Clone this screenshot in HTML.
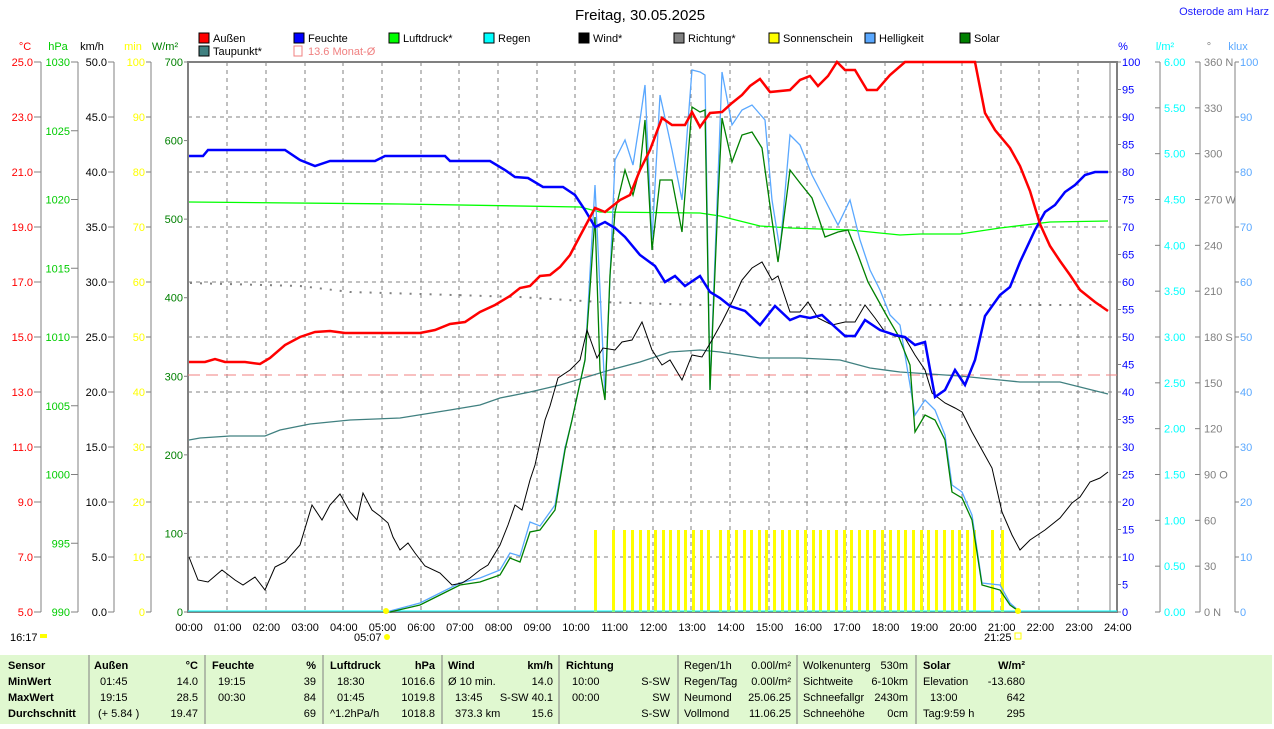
<!DOCTYPE html>
<html><head><meta charset="utf-8"><style>
body{margin:0;background:#fff;width:1274px;height:724px;overflow:hidden;font-family:"Liberation Sans",sans-serif}
svg text{font-family:"Liberation Sans",sans-serif;font-size:11px}
</style></head><body>
<svg width="1274" height="724" viewBox="0 0 1274 724">
<text x="640" y="20" font-size="15" text-anchor="middle" style="font-size:15px">Freitag, 30.05.2025</text>
<text x="1269" y="15" text-anchor="end" fill="#2020ff">Osterode am Harz</text>
<!-- legend -->
<g font-size="11">
<rect x="199" y="33" width="10" height="10" fill="#f00" stroke="#000"/><text x="213" y="42">Außen</text>
<rect x="294" y="33" width="10" height="10" fill="#00f" stroke="#000"/><text x="308" y="42">Feuchte</text>
<rect x="389" y="33" width="10" height="10" fill="#0f0" stroke="#000"/><text x="403" y="42">Luftdruck*</text>
<rect x="484" y="33" width="10" height="10" fill="#0ff" stroke="#000"/><text x="498" y="42">Regen</text>
<rect x="579" y="33" width="10" height="10" fill="#000" stroke="#000"/><text x="593" y="42">Wind*</text>
<rect x="674" y="33" width="10" height="10" fill="#808080" stroke="#000"/><text x="688" y="42">Richtung*</text>
<rect x="769" y="33" width="10" height="10" fill="#ff0" stroke="#000"/><text x="783" y="42">Sonnenschein</text>
<rect x="865" y="33" width="10" height="10" fill="#5aa8ff" stroke="#000"/><text x="879" y="42">Helligkeit</text>
<rect x="960" y="33" width="10" height="10" fill="#008000" stroke="#000"/><text x="974" y="42">Solar</text>
<rect x="199" y="46" width="10" height="10" fill="#408080" stroke="#000"/><text x="213" y="55">Taupunkt*</text>
<rect x="294" y="46" width="8" height="10" fill="none" stroke="#f08080"/><text x="308" y="55" fill="#f08080">13.6 Monat-Ø</text>
</g>
<!-- units -->
<text x="25" y="50" fill="#f00" text-anchor="middle">°C</text>
<text x="58" y="50" fill="#0c0" text-anchor="middle">hPa</text>
<text x="92" y="50" text-anchor="middle">km/h</text>
<text x="133" y="50" fill="#ff0" text-anchor="middle">min</text>
<text x="165" y="50" fill="#008000" text-anchor="middle">W/m²</text>
<text x="1123" y="50" fill="#00f" text-anchor="middle">%</text>
<text x="1165" y="50" fill="#0ff" text-anchor="middle">l/m²</text>
<text x="1209" y="50" fill="#808080" text-anchor="middle">°</text>
<text x="1238" y="50" fill="#5aa8ff" text-anchor="middle">klux</text>
<!-- grid -->
<g stroke="#808080" stroke-dasharray="4,4" stroke-width="1">
<line x1="227" y1="62" x2="227" y2="612"/><line x1="266" y1="62" x2="266" y2="612"/><line x1="305" y1="62" x2="305" y2="612"/><line x1="343" y1="62" x2="343" y2="612"/><line x1="382" y1="62" x2="382" y2="612"/><line x1="421" y1="62" x2="421" y2="612"/><line x1="459" y1="62" x2="459" y2="612"/><line x1="498" y1="62" x2="498" y2="612"/><line x1="537" y1="62" x2="537" y2="612"/><line x1="575" y1="62" x2="575" y2="612"/><line x1="614" y1="62" x2="614" y2="612"/><line x1="653" y1="62" x2="653" y2="612"/><line x1="691" y1="62" x2="691" y2="612"/><line x1="730" y1="62" x2="730" y2="612"/><line x1="769" y1="62" x2="769" y2="612"/><line x1="807" y1="62" x2="807" y2="612"/><line x1="846" y1="62" x2="846" y2="612"/><line x1="885" y1="62" x2="885" y2="612"/><line x1="923" y1="62" x2="923" y2="612"/><line x1="962" y1="62" x2="962" y2="612"/><line x1="1001" y1="62" x2="1001" y2="612"/><line x1="1039" y1="62" x2="1039" y2="612"/><line x1="1078" y1="62" x2="1078" y2="612"/>
<line x1="188" y1="117" x2="1117" y2="117"/><line x1="188" y1="172" x2="1117" y2="172"/><line x1="188" y1="227" x2="1117" y2="227"/><line x1="188" y1="282" x2="1117" y2="282"/><line x1="188" y1="337" x2="1117" y2="337"/><line x1="188" y1="392" x2="1117" y2="392"/><line x1="188" y1="447" x2="1117" y2="447"/><line x1="188" y1="502" x2="1117" y2="502"/><line x1="188" y1="557" x2="1117" y2="557"/>
</g>
<rect x="188" y="62" width="929" height="550" fill="none" stroke="#808080" stroke-width="2"/>
<line x1="1110" y1="62" x2="1110" y2="612" stroke="#808080"/>
<!-- axes lines -->
<g stroke="#808080"><line x1="41" y1="62" x2="41" y2="612"/><line x1="78" y1="62" x2="78" y2="612"/><line x1="114" y1="62" x2="114" y2="612"/><line x1="151" y1="62" x2="151" y2="612"/><line x1="1160" y1="62" x2="1160" y2="612"/><line x1="1200" y1="62" x2="1200" y2="612"/><line x1="1235" y1="62" x2="1235" y2="612"/></g>
<g font-size="11" id="ax"></g>
<!-- monthly avg -->
<line x1="188" y1="375" x2="1117" y2="375" stroke="#f08080" stroke-dasharray="12,6"/>
<!-- Richtung dots -->
<polyline fill="none" stroke="#808080" stroke-width="2" stroke-dasharray="2,8" points="190,283 300,286 350,292 420,294 520,297 600,302 700,305 1108,305"/>
<!-- sunshine bars -->
<g id="bars" fill="#ff0"></g>
<!-- series -->
<polyline fill="none" stroke="#0ff" stroke-width="1" points="188,611 1117,611"/>
<polyline fill="none" stroke="#408080" stroke-width="1.3" points="189,440 200,438 230,436 265,436 280,430 310,424 350,420 400,418 450,410 480,405 500,398 530,392 560,385 590,376 610,370 640,362 670,352 700,350 720,352 760,358 800,358 840,360 870,368 900,372 960,376 1000,380 1020,382 1060,382 1108,394"/>
<polyline fill="none" stroke="#0f0" stroke-width="1.3" points="189,202 400,204 580,207 600,212 700,213 720,216 760,226 790,228 850,230 900,235 920,234 960,234 1000,228 1050,222 1108,221"/>
<polyline fill="none" stroke="#5aa8ff" stroke-width="1.3" points="390,611 420,603 440,593 460,583 480,578 500,570 510,553 520,556 530,522 540,526 555,505 565,448 572,420 585,360 595,185 605,395 615,160 625,140 633,165 640,120 645,85 652,240 660,95 672,150 682,200 692,70 700,72 705,75 710,390 722,72 732,125 742,110 752,105 765,120 772,200 780,250 790,135 800,145 812,175 825,200 838,225 850,200 860,240 870,270 880,290 890,315 900,325 915,415 925,400 935,410 945,435 952,485 962,492 972,515 982,583 1000,585 1010,603 1020,612"/>
<polyline fill="none" stroke="#008000" stroke-width="1.3" points="390,612 420,605 440,595 460,585 480,582 500,575 510,558 520,562 530,532 540,530 555,510 565,450 572,420 585,360 595,217 600,370 605,400 610,275 615,212 625,170 633,195 640,168 645,120 652,250 660,180 672,180 682,232 692,107 700,112 705,110 710,390 718,200 722,118 732,162 742,135 752,132 762,148 772,220 778,262 783,225 790,170 800,183 812,198 825,237 838,232 848,230 858,255 868,282 878,300 888,318 898,335 910,365 915,432 925,415 935,420 945,440 952,492 962,498 972,520 982,585 1000,590 1010,605 1020,612"/>
<polyline fill="none" stroke="#000" stroke-width="1" points="189,557 198,580 208,582 222,570 235,580 243,585 255,577 265,590 275,567 285,562 300,545 312,505 322,520 330,505 340,494 350,512 357,520 363,493 372,510 380,516 388,523 393,537 400,550 408,543 415,553 425,566 440,573 452,585 462,583 470,578 480,570 488,565 500,545 508,525 515,505 522,510 530,480 535,465 545,420 550,406 558,378 570,370 580,360 587,330 597,358 603,348 615,350 622,342 632,340 642,322 652,350 662,365 670,360 682,380 692,355 702,357 712,340 722,322 732,302 742,280 752,268 762,262 772,280 778,276 790,312 800,312 808,302 818,318 832,325 845,322 855,322 865,305 875,318 885,332 895,336 905,338 915,355 925,370 932,393 945,403 955,408 962,412 972,432 982,450 992,468 1002,512 1012,535 1020,550 1030,540 1045,530 1060,518 1072,503 1080,497 1090,482 1100,478 1108,472"/>
<polyline fill="none" stroke="#00f" stroke-width="2.5" points="189,156 203,156 208,150 285,150 300,160 315,166 330,161 375,161 385,156 445,156 450,161 490,161 505,170 515,177 528,178 543,187 563,187 575,195 585,210 595,227 605,222 615,228 625,237 640,255 655,266 665,282 675,276 685,286 700,276 710,292 720,298 730,306 745,311 760,325 775,306 790,320 800,316 810,318 822,315 835,327 845,336 855,336 865,320 880,330 895,335 905,337 915,345 925,342 935,397 945,390 955,370 965,385 975,360 985,316 1000,295 1010,287 1020,262 1035,230 1045,212 1055,205 1065,192 1075,185 1085,175 1095,172 1108,172"/>
<polyline fill="none" stroke="#f00" stroke-width="2.5" points="189,362 205,362 215,359 225,362 245,362 260,364 270,358 285,345 300,337 315,332 330,331 345,333 420,333 435,330 450,324 465,322 480,312 495,305 510,296 520,288 530,286 540,276 550,275 560,267 570,255 580,236 595,208 605,212 620,200 630,195 640,170 650,150 662,118 672,125 685,125 692,112 700,127 710,113 722,112 732,103 742,95 750,86 760,79 770,92 790,90 800,80 810,76 818,86 828,76 837,62 845,70 855,70 867,90 877,90 890,75 905,62 975,62 985,113 995,130 1010,148 1020,166 1030,191 1040,224 1050,246 1060,261 1070,275 1080,290 1095,302 1108,311"/>
<!-- x labels -->
<g id="xl" font-size="11"></g>
<text x="10" y="641">16:17</text><rect x="40" y="634" width="7" height="4" fill="#ff0"/>
<text x="354" y="641">05:07</text><circle cx="387" cy="637" r="3" fill="#ff0"/><circle cx="386" cy="611" r="3" fill="#ff0"/>
<text x="984" y="641">21:25</text><rect x="1015" y="633" width="6" height="6" fill="none" stroke="#ff0"/><circle cx="1018" cy="611" r="3" fill="#ff0"/>
<!-- table -->
<rect x="0" y="655" width="1272" height="69" fill="#e0f8d0"/>
<g stroke="#808080"><line x1="89" y1="655" x2="89" y2="724"/><line x1="205" y1="655" x2="205" y2="724"/><line x1="323" y1="655" x2="323" y2="724"/><line x1="442" y1="655" x2="442" y2="724"/><line x1="559" y1="655" x2="559" y2="724"/><line x1="678" y1="655" x2="678" y2="724"/><line x1="797" y1="655" x2="797" y2="724"/><line x1="916" y1="655" x2="916" y2="724"/></g>
<g font-size="11">
<text x="8" y="669" font-weight="bold">Sensor</text><text x="8" y="685" font-weight="bold">MinWert</text><text x="8" y="701" font-weight="bold">MaxWert</text><text x="8" y="717" font-weight="bold">Durchschnitt</text>
<text x="94" y="669" font-weight="bold">Außen</text><text x="198" y="669" font-weight="bold" text-anchor="end">°C</text>
<text x="100" y="685">01:45</text><text x="198" y="685" text-anchor="end">14.0</text>
<text x="100" y="701">19:15</text><text x="198" y="701" text-anchor="end">28.5</text>
<text x="98" y="717">(+ 5.84 )</text><text x="198" y="717" text-anchor="end">19.47</text>
<text x="212" y="669" font-weight="bold">Feuchte</text><text x="316" y="669" font-weight="bold" text-anchor="end">%</text>
<text x="218" y="685">19:15</text><text x="316" y="685" text-anchor="end">39</text>
<text x="218" y="701">00:30</text><text x="316" y="701" text-anchor="end">84</text>
<text x="316" y="717" text-anchor="end">69</text>
<text x="330" y="669" font-weight="bold">Luftdruck</text><text x="435" y="669" font-weight="bold" text-anchor="end">hPa</text>
<text x="337" y="685">18:30</text><text x="435" y="685" text-anchor="end">1016.6</text>
<text x="337" y="701">01:45</text><text x="435" y="701" text-anchor="end">1019.8</text>
<text x="330" y="717">^1.2hPa/h</text><text x="435" y="717" text-anchor="end">1018.8</text>
<text x="448" y="669" font-weight="bold">Wind</text><text x="553" y="669" font-weight="bold" text-anchor="end">km/h</text>
<text x="448" y="685">Ø 10 min.</text><text x="553" y="685" text-anchor="end">14.0</text>
<text x="455" y="701">13:45</text><text x="553" y="701" text-anchor="end">S-SW 40.1</text>
<text x="455" y="717">373.3 km</text><text x="553" y="717" text-anchor="end">15.6</text>
<text x="566" y="669" font-weight="bold">Richtung</text>
<text x="572" y="685">10:00</text><text x="670" y="685" text-anchor="end">S-SW</text>
<text x="572" y="701">00:00</text><text x="670" y="701" text-anchor="end">SW</text>
<text x="670" y="717" text-anchor="end">S-SW</text>
<text x="684" y="669">Regen/1h</text><text x="791" y="669" text-anchor="end">0.00l/m²</text>
<text x="684" y="685">Regen/Tag</text><text x="791" y="685" text-anchor="end">0.00l/m²</text>
<text x="684" y="701">Neumond</text><text x="791" y="701" text-anchor="end">25.06.25</text>
<text x="684" y="717">Vollmond</text><text x="791" y="717" text-anchor="end">11.06.25</text>
<text x="803" y="669">Wolkenunterg</text><text x="908" y="669" text-anchor="end">530m</text>
<text x="803" y="685">Sichtweite</text><text x="908" y="685" text-anchor="end">6-10km</text>
<text x="803" y="701">Schneefallgr</text><text x="908" y="701" text-anchor="end">2430m</text>
<text x="803" y="717">Schneehöhe</text><text x="908" y="717" text-anchor="end">0cm</text>
<text x="923" y="669" font-weight="bold">Solar</text><text x="1025" y="669" font-weight="bold" text-anchor="end">W/m²</text>
<text x="923" y="685">Elevation</text><text x="1025" y="685" text-anchor="end">-13.680</text>
<text x="930" y="701">13:00</text><text x="1025" y="701" text-anchor="end">642</text>
<text x="923" y="717">Tag:9:59 h</text><text x="1025" y="717" text-anchor="end">295</text>
</g>
</svg>
<script>
var ns="http://www.w3.org/2000/svg",ax=document.getElementById("ax");
function t(x,y,s,c,a){var e=document.createElementNS(ns,"text");e.setAttribute("x",x);e.setAttribute("y",y+4);e.setAttribute("fill",c);e.setAttribute("text-anchor",a);e.textContent=s;ax.appendChild(e);}
function tk(x1,x2,y){var l=document.createElementNS(ns,"line");l.setAttribute("x1",x1);l.setAttribute("x2",x2);l.setAttribute("y1",y);l.setAttribute("y2",y);l.setAttribute("stroke","#808080");ax.appendChild(l);}
for(var i=0;i<=10;i++){var y=62+55*i;t(33,y,(25-2*i).toFixed(1),"#f00","end");tk(34,41,y);t(107,y,(50-5*i).toFixed(1),"#000","end");tk(108,114,y);t(145,y,String(100-10*i),"#ff0","end");tk(146,151,y);t(1122,y,String(100-10*i),"#5aa8ff".replace("#5aa8ff","#00f"),"start");tk(1117,1121,y);t(1240,y,String(100-10*i),"#5aa8ff","start");tk(1235,1239,y);}
for(var i=0;i<=20;i++){var y=62+27.5*i;if(i%2){t(1122,y,String(100-5*i),"#00f","start");tk(1117,1121,y);}}
for(var i=0;i<=8;i++){var y=62+68.75*i;t(70,y,String(1030-5*i),"#0c0","end");tk(71,78,y);}
for(var i=0;i<=7;i++){var y=62+550/7*i;t(183,y,String(700-100*i),"#008000","end");tk(184,188,y);}
var dn=["360 N","330","300","270 W","240","210","180 S","150","120","90 O","60","30","0 N"];
for(var i=0;i<=12;i++){var y=62+550/12*i;t(1164,y,(6-0.5*i).toFixed(2),"#0ff","start");tk(1155,1160,y);t(1204,y,dn[i],"#808080","start");tk(1195,1200,y);}
var xl=document.getElementById("xl");
for(var h=0;h<=24;h++){var e=document.createElementNS(ns,"text");e.setAttribute("x",189+h*38.7);e.setAttribute("y",631);e.setAttribute("text-anchor","middle");e.textContent=(h<10?"0":"")+h+":00";xl.appendChild(e);}
var b=document.getElementById("bars"),bx=[595,613,624,632,640,648,655,663,670,678,685,693,701,708,720,728,736,744,751,759,766,774,782,789,797,805,813,820,828,836,844,851,859,867,874,882,890,898,905,913,921,928,936,944,952,959,967,974,992,1002];
bx.forEach(function(x){var r=document.createElementNS(ns,"rect");r.setAttribute("x",x-1);r.setAttribute("y",530);r.setAttribute("width",3);r.setAttribute("height",82);b.appendChild(r);});
</script>
</body></html>
